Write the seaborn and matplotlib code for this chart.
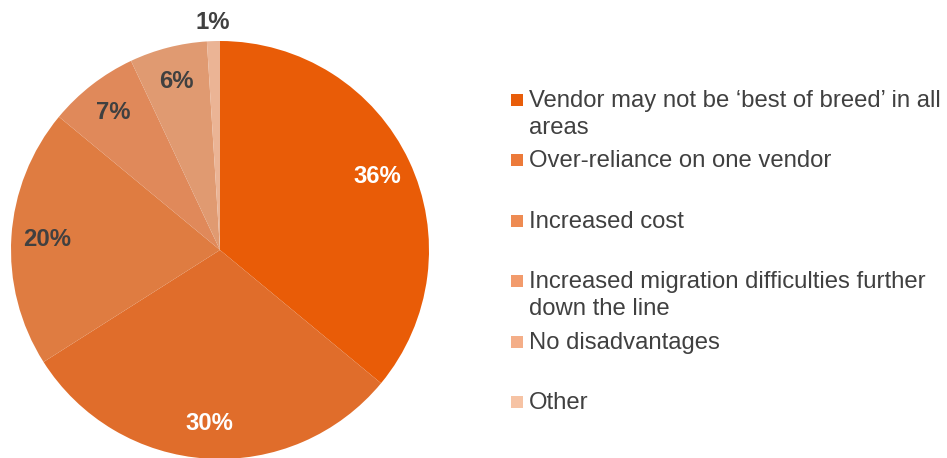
import matplotlib
matplotlib.use("Agg")
import matplotlib.pyplot as plt
import matplotlib.patches as mpatches
import seaborn as sns

labels = [
    "Vendor may not be \u2018best of breed\u2019 in all\nareas",
    "Over-reliance on one vendor",
    "Increased cost",
    "Increased migration difficulties further\ndown the line",
    "No disadvantages",
    "Other",
]
values = [36, 30, 20, 7, 6, 1]
pie_colors = ["#E95C07", "#E06D2B", "#DF7C41", "#E0895A", "#E09A71", "#EBB495"]
legend_colors = ["#E85D0A", "#EC7A3A", "#EE8B52", "#F29B6C", "#F4AE88", "#F6C3A4"]
label_colors = ["white", "white", "#404040", "#404040", "#404040", "#404040"]

sns.set_theme(style="white")
plt.rcParams["font.family"] = ["Liberation Sans", "DejaVu Sans"]

W, H = 947, 458
fig = plt.figure(figsize=(W / 100, H / 100), dpi=100)

# pie axes: center ~ (220, 250) px, radius ~209 px
ax = fig.add_axes([11 / W, (H - 459) / H, 418 / W, 418 / H])
palette = sns.color_palette(pie_colors)
wedges, texts, autotexts = ax.pie(
    values, colors=palette, startangle=90, counterclock=False,
    autopct="%1.0f%%", pctdistance=0.83, radius=1,
    wedgeprops=dict(linewidth=0),
    textprops=dict(fontsize=17.2, fontweight="bold"),
)
for t, c in zip(autotexts, label_colors):
    t.set_color(c)
# smallest slice label sits outside the pie
x, y = autotexts[-1].get_position()
autotexts[-1].set_position((x / 0.83 * 1.09, y / 0.83 * 1.09))
ax.set_xlim(-1, 1)
ax.set_ylim(-1, 1)
ax.set_aspect("equal")
ax.axis("off")

# legend, each entry takes two text lines
y0, pitch, sq = 100, 60.4, 12
for i, (lab, col) in enumerate(zip(labels, legend_colors)):
    yc = y0 + i * pitch
    fig.patches.append(mpatches.Rectangle(
        (511 / W, (H - yc - sq / 2) / H), sq / W, sq / H,
        transform=fig.transFigure, facecolor=col, edgecolor="none"))
    fig.text(529 / W, (H - yc + 10) / H, lab, fontsize=17.2, color="#404040",
             va="top", ha="left", linespacing=1.3)

fig.savefig("out.png", dpi=100)
